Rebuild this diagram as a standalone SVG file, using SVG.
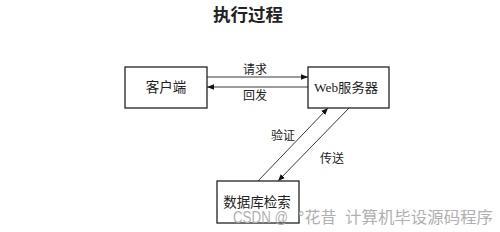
<svg xmlns="http://www.w3.org/2000/svg" width="500" height="232" viewBox="0 0 500 232">
<style>
.box{fill:#fff;stroke:#222;stroke-width:1.3}
.t{font-family:"Liberation Serif","Noto Sans CJK SC",serif;fill:#222;text-anchor:middle;dominant-baseline:central}
.lbl{font-size:12px}
.ln{stroke:#222;stroke-width:0.9;fill:none}
.wm{font-family:"Liberation Sans","Noto Sans CJK SC",sans-serif;font-size:16px;fill:#b0b0b0;dominant-baseline:central}
</style>
<defs>
<marker id="ah" viewBox="0 0 10 10" refX="10" refY="5" markerWidth="7" markerHeight="7" orient="auto" markerUnits="userSpaceOnUse">
<path d="M0,1 L10,5 L0,9 Z" fill="#111"/>
</marker>
</defs>
<rect width="500" height="232" fill="#fff"/>
<text class="t" x="248" y="15" font-size="17.5" font-weight="bold">执行过程</text>
<g id="connectors">
<line class="ln" x1="207" y1="77" x2="308" y2="77" marker-end="url(#ah)"/>
<line class="ln" x1="308" y1="87" x2="207" y2="87" marker-end="url(#ah)"/>
<line class="ln" x1="258" y1="181" x2="328" y2="108" marker-end="url(#ah)"/>
<line class="ln" x1="349" y1="108" x2="278" y2="181" marker-end="url(#ah)"/>
<text class="t lbl" x="255" y="70">请求</text>
<text class="t lbl" x="255" y="96">回发</text>
<text class="t lbl" x="283" y="136">验证</text>
<text class="t lbl" x="332" y="159">传送</text>
</g>
<g id="client">
<rect class="box" x="125" y="67" width="82" height="41"/>
<text class="t" x="166" y="87.5" font-size="13.5">客户端</text>
</g>
<g id="webserver">
<rect class="box" x="308" y="67" width="81" height="41"/>
<text class="t" x="346" y="87.5" font-size="13" textLength="64" lengthAdjust="spacingAndGlyphs">Web服务器</text>
</g>
<g id="database">
<rect class="box" x="217" y="181" width="82" height="42"/>
<text class="t" x="257" y="202" font-size="13.5">数据库检索</text>
</g>
<text class="wm" y="217"><tspan x="233" textLength="55" lengthAdjust="spacingAndGlyphs">CSDN @</tspan><tspan x="298">°花昔</tspan><tspan x="345" textLength="148" lengthAdjust="spacingAndGlyphs">计算机毕设源码程序</tspan></text>
</svg>
